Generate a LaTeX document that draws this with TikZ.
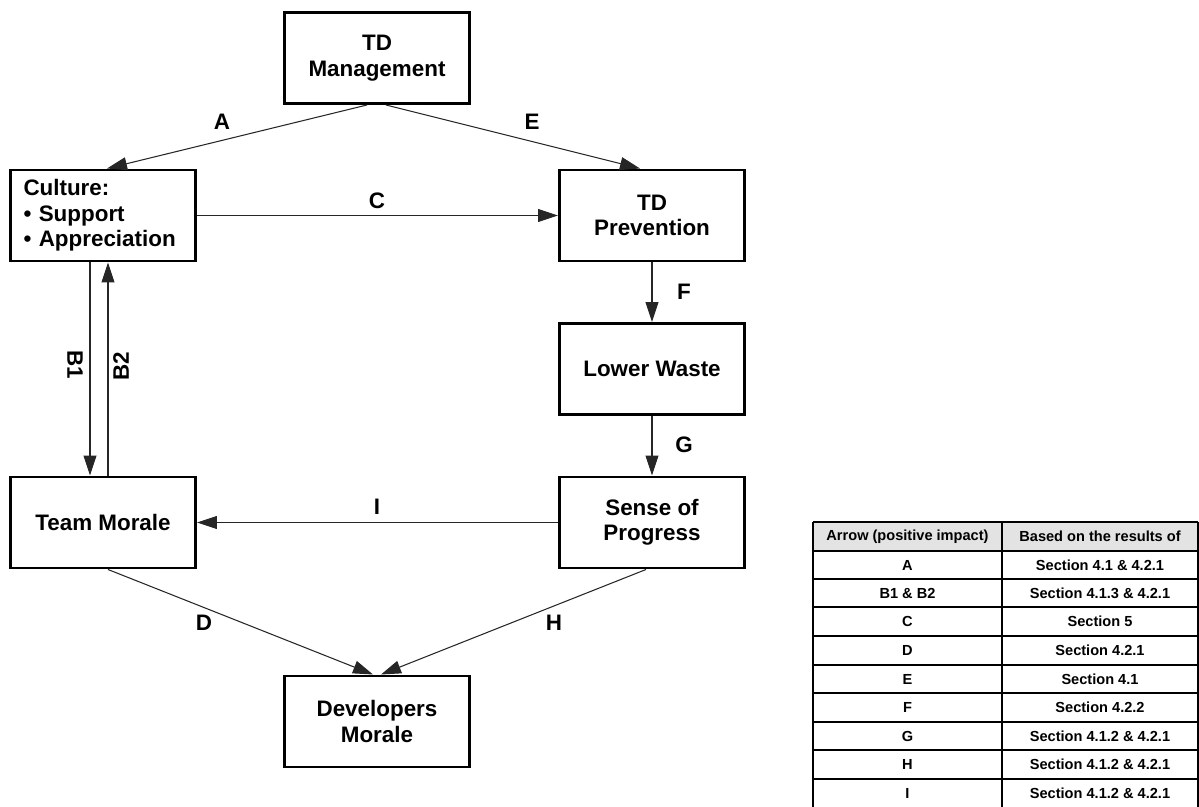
\documentclass[tikz,border=0pt]{standalone}
\usepackage{fontspec}
\setmainfont{Liberation Sans}
\usepackage{tikz}
\usetikzlibrary{arrows.meta}

\tikzset{
  box/.style={draw=black, line width=1.7pt, minimum width=3.70cm, minimum height=1.82cm,
              align=center, font=\fontsize{12.75}{14.5}\selectfont\bfseries},
  lbl/.style={font=\fontsize{12.75}{14.5}\selectfont\bfseries},
  cell/.style={font=\fontsize{8.3}{10}\selectfont\bfseries},
  tab/.style={draw=black, line width=1.1pt}
}

\begin{document}
\begin{tikzpicture}
\useasboundingbox (0,0) rectangle (23.98,-16.14);
%\node[box] (mgmt) at (7.54,-1.2) {TD Management};
\begin{scope}
    \node[box] (mgmt) at (7.54,-1.16) {TD\\Management};
    \node[box, align=left, text width=3.18cm] (culture) at (2.06,-4.31) {Culture:\\• Support\\• Appreciation};
    \node[box] (prevent) at (13.04,-4.31) {TD\\Prevention};
    \node[box] (waste) at (13.04,-7.38) {Lower Waste};
    \node[box] (sense) at (13.04,-10.45) {Sense of\\Progress};
    \node[box] (team) at (2.06,-10.45) {Team Morale};
    \node[box] (devs) at (7.54,-14.43) {Developers\\Morale};

    \node[lbl] (la) at (4.44,-2.44) {A};
    \node[lbl] (le) at (10.64,-2.44) {E};
    \node[lbl] (lc) at (7.54,-4.02) {C};
    \node[lbl, rotate=-90] (lb1) at (1.50,-7.30) {B1};
    \node[lbl, rotate=90] (lb2) at (2.42,-7.32) {B2};
    \node[lbl] (lf) at (13.68,-5.84) {F};
    \node[lbl] (lg) at (13.68,-8.90) {G};
    \node[lbl] (li) at (7.54,-10.14) {I};
    \node[lbl] (ld) at (4.08,-12.46) {D};
    \node[lbl] (lh) at (11.08,-12.46) {H};
\end{scope}

\begin{scope}[>={Triangle[length=0.4cm,width=0.26cm]},
              every edge/.style={draw=black!85, line width=0.6pt}]
    \path [->] ([xshift=-0.2cm]mgmt.south) edge ([xshift=0.08cm]culture.north);
    \path [->] ([xshift=0.18cm]mgmt.south) edge ([xshift=-0.24cm]prevent.north);
    \path [->] (culture) edge (prevent);
    \path [->] ([xshift=-0.26cm]culture.south) edge ([xshift=-0.26cm]team.north);
    \path [->] ([xshift=0.1cm]team.north) edge ([xshift=0.1cm]culture.south);
    \path [->] (prevent) edge (waste);
    \path [->] (waste) edge (sense);
    \path [->] (sense) edge (team);
    \path [->] ([xshift=0.1cm]team.south) edge ([xshift=-0.08cm]devs.north);
    \path [->] ([xshift=-0.12cm]sense.south) edge ([xshift=0.08cm]devs.north);
\end{scope}

% table of arrows
\fill[gray!22] (16.26,-10.44) rectangle (23.96,-11.02);
\draw[tab] (16.26,-10.44) -- (23.96,-10.44);
\draw[tab] (16.26,-11.02) -- (23.96,-11.02);
\draw[tab] (16.26,-11.58) -- (23.96,-11.58);
\draw[tab] (16.26,-12.14) -- (23.96,-12.14);
\draw[tab] (16.26,-12.72) -- (23.96,-12.72);
\draw[tab] (16.26,-13.30) -- (23.96,-13.30);
\draw[tab] (16.26,-13.86) -- (23.96,-13.86);
\draw[tab] (16.26,-14.44) -- (23.96,-14.44);
\draw[tab] (16.26,-15.00) -- (23.96,-15.00);
\draw[tab] (16.26,-15.58) -- (23.96,-15.58);
\draw[tab] (16.26,-10.44) -- (16.26,-16.14);
\draw[tab] (20.04,-10.44) -- (20.04,-16.14);
\draw[tab] (23.96,-10.44) -- (23.96,-16.14);

\node[cell] (h1) at (18.15,-10.73) {Arrow (positive impact)};
\node[cell] (h2) at (22.00,-10.73) {Based on the results of};
\node[cell] (ra) at (18.15,-11.30) {A};
\node[cell] (sa) at (22.00,-11.30) {Section 4.1 \& 4.2.1};
\node[cell] (rb) at (18.15,-11.86) {B1 \& B2};
\node[cell] (sb) at (22.00,-11.86) {Section 4.1.3 \& 4.2.1};
\node[cell] (rc) at (18.15,-12.43) {C};
\node[cell] (sc) at (22.00,-12.43) {Section 5};
\node[cell] (rd) at (18.15,-13.01) {D};
\node[cell] (sd) at (22.00,-13.01) {Section 4.2.1};
\node[cell] (re) at (18.15,-13.58) {E};
\node[cell] (se) at (22.00,-13.58) {Section 4.1};
\node[cell] (rf) at (18.15,-14.15) {F};
\node[cell] (sf) at (22.00,-14.15) {Section 4.2.2};
\node[cell] (rg) at (18.15,-14.72) {G};
\node[cell] (sg) at (22.00,-14.72) {Section 4.1.2 \& 4.2.1};
\node[cell] (rh) at (18.15,-15.29) {H};
\node[cell] (sh) at (22.00,-15.29) {Section 4.1.2 \& 4.2.1};
\node[cell] (ri) at (18.15,-15.86) {I};
\node[cell] (si) at (22.00,-15.86) {Section 4.1.2 \& 4.2.1};
\end{tikzpicture}
\end{document}
